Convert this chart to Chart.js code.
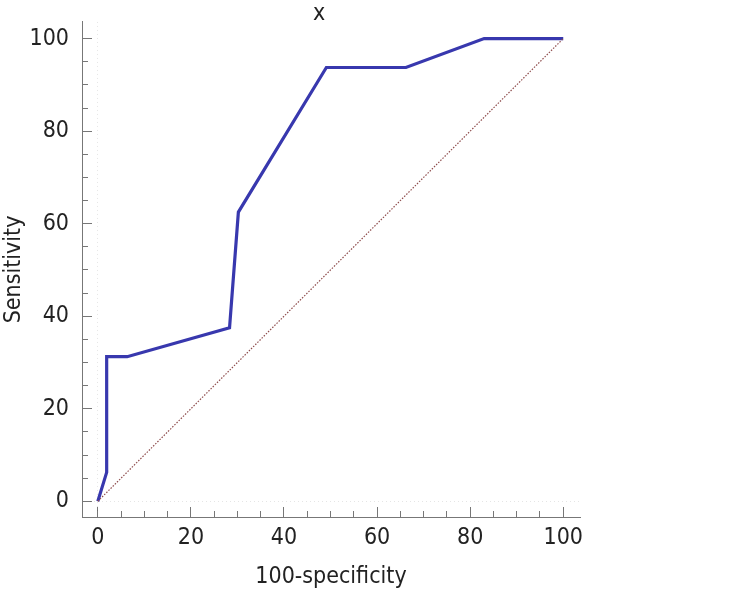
<!DOCTYPE html>
<html>
<head>
<meta charset="utf-8">
<script src="https://cdn.jsdelivr.net/npm/chart.js@4"></script>
<style>
  html, body { margin: 0; padding: 0; background: #ffffff; }
  #wrap { width: 743px; height: 596px; }
</style>
</head>
<body>
<div id="wrap"><canvas id="c" width="743" height="596"></canvas></div>
<script>
// ---- data ----
const chartTitle = "x";
const xTitle = "100-specificity";
const yTitle = "Sensitivity";
const rocX = [0, 1.9, 1.9, 6.3, 28.3, 30.2, 49.1, 66.2, 83.0, 100];
const rocY = [0, 6.25, 31.25, 31.25, 37.5, 62.5, 93.75, 93.75, 100, 100];
const refX = [0, 100];
const refY = [0, 100];
const majorTicks = [0, 20, 40, 60, 80, 100];
const minorTicks = [0, 5, 10, 15, 20, 25, 30, 35, 40, 45, 50, 55, 60, 65, 70, 75, 80, 85, 90, 95, 100];
const axisMin = -3.4;
const axisMax = 103.6;

const FONT = "'DejaVu Sans Condensed', 'DejaVu Sans', sans-serif";
Chart.defaults.font.family = FONT;
Chart.defaults.font.size = 23;
Chart.defaults.color = '#222222';

const toPts = (xs, ys) => xs.map((x, i) => ({ x: x, y: ys[i] }));
const setTicks = vals => scale => { scale.ticks = vals.map(v => ({ value: v })); };
const noPad = s => { s.paddingTop = 0; s.paddingBottom = 0; s.paddingLeft = 0; s.paddingRight = 0; };
const AXIS_COLOR = '#777777';
const zeroLine = c => (c.tick && c.tick.value === 0) ? 'rgba(0,0,0,0.10)' : 'rgba(0,0,0,0)';

new Chart(document.getElementById('c'), {
  type: 'line',
  data: {
    datasets: [
      {
        data: toPts(refX, refY),
        borderColor: '#8e4c4c',
        borderWidth: 1.2,
        borderDash: [1.5, 1.5],
        pointRadius: 0,
        tension: 0,
        xAxisID: 'x',
        yAxisID: 'y'
      },
      {
        data: toPts(rocX, rocY),
        borderColor: '#3838ae',
        borderWidth: 3.2,
        pointRadius: 0,
        tension: 0,
        borderJoinStyle: 'miter',
        xAxisID: 'x',
        yAxisID: 'y'
      }
    ]
  },
  options: {
    responsive: false,
    animation: false,
    devicePixelRatio: 1,
    layout: { padding: { left: 0, right: 105, top: 0, bottom: 0 } },
    plugins: {
      legend: { display: false },
      tooltip: { enabled: false },
      title: {
        display: true,
        text: chartTitle,
        color: '#222222',
        font: { size: 23, weight: 'normal', lineHeight: 0.65 },
        padding: { top: 7, bottom: 0 }
      }
    },
    scales: {
      x: {
        type: 'linear',
        position: 'bottom',
        weight: 1,
        min: axisMin, max: axisMax,
        afterBuildTicks: setTicks(majorTicks),
        afterFit: s => { s.height = 79; noPad(s); },
        border: { display: true, color: AXIS_COLOR, width: 1 },
        grid: { drawOnChartArea: false, drawTicks: true, tickLength: -10, tickColor: AXIS_COLOR, tickWidth: 1 },
        ticks: { padding: 17, color: '#222222', font: { size: 23 }, maxRotation: 0, autoSkip: false },
        title: { display: true, text: xTitle, color: '#222222', font: { size: 23 }, padding: { top: 0, bottom: 5 } }
      },
      xMinor: {
        type: 'linear',
        position: 'bottom',
        weight: 0,
        min: axisMin, max: axisMax,
        afterBuildTicks: setTicks(minorTicks),
        afterFit: s => { s.height = 0; noPad(s); },
        border: { display: false, dash: [1, 3] },
        grid: {
          drawOnChartArea: true, drawTicks: true, tickLength: -6,
          color: zeroLine, tickColor: AXIS_COLOR, tickWidth: 1
        },
        ticks: { display: false }
      },
      y: {
        type: 'linear',
        position: 'left',
        weight: 1,
        min: axisMin, max: axisMax,
        afterBuildTicks: setTicks(majorTicks),
        afterFit: s => { s.width = 82; noPad(s); },
        border: { display: true, color: AXIS_COLOR, width: 1 },
        grid: { drawOnChartArea: false, drawTicks: true, tickLength: -10, tickColor: AXIS_COLOR, tickWidth: 1 },
        ticks: { padding: 23, color: '#222222', font: { size: 23 }, autoSkip: false },
        title: { display: true, text: yTitle, color: '#222222', font: { size: 23 }, padding: { top: 0, bottom: 0 } }
      },
      yMinor: {
        type: 'linear',
        position: 'left',
        weight: 0,
        min: axisMin, max: axisMax,
        afterBuildTicks: setTicks(minorTicks),
        afterFit: s => { s.width = 0; noPad(s); },
        border: { display: false, dash: [1, 3] },
        grid: {
          drawOnChartArea: true, drawTicks: true, tickLength: -6,
          color: zeroLine, tickColor: AXIS_COLOR, tickWidth: 1
        },
        ticks: { display: false }
      },
      yRightSpace: {
        type: 'linear',
        position: 'right',
        min: 0, max: 1,
        afterFit: s => { s.width = 58; noPad(s); },
        border: { display: false },
        grid: { display: false },
        ticks: { display: false }
      }
    }
  }
});
</script>
</body>
</html>
